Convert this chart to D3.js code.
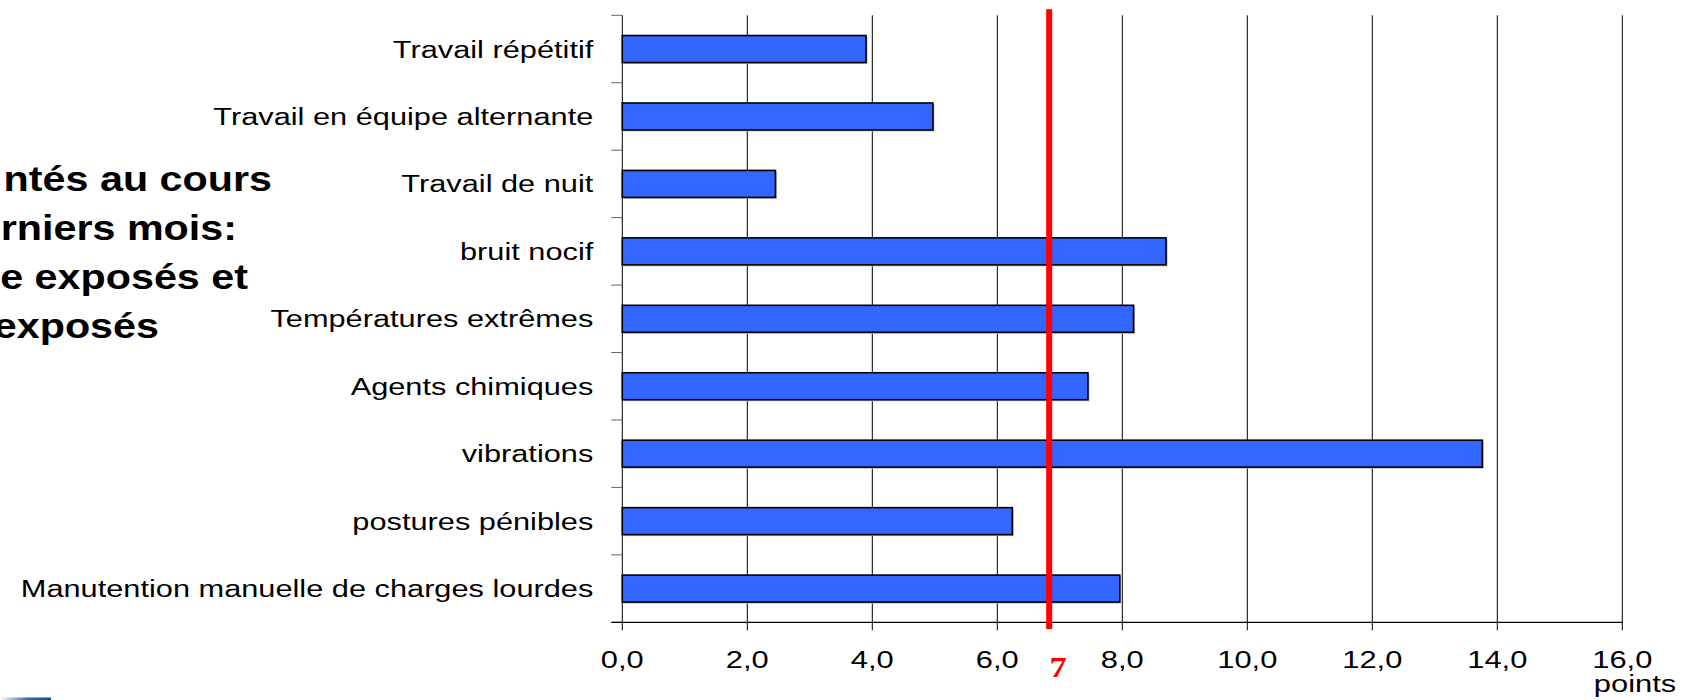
<!DOCTYPE html>
<html>
<head>
<meta charset="utf-8">
<script src="https://cdn.jsdelivr.net/npm/d3@7/dist/d3.min.js"></script>
<style>
  html, body { margin: 0; padding: 0; background: #fff; }
  svg { display: block; }
</style>
</head>
<body>
<svg id="chart" width="1697" height="700"></svg>
<script>
// ---- data ----
const categories = [
  "Travail répétitif",
  "Travail en équipe alternante",
  "Travail de nuit",
  "bruit nocif",
  "Températures extrêmes",
  "Agents chimiques",
  "vibrations",
  "postures pénibles",
  "Manutention manuelle de charges lourdes"
];
const values = [3.90, 4.97, 2.45, 8.70, 8.18, 7.45, 13.76, 6.24, 7.96];
const xTicks = [0, 2, 4, 6, 8, 10, 12, 14, 16];
const thresholdValue = 6.83;
const thresholdLabel = "7";
const unitLabel = "points";
const titleLines = ["ntés au cours", "rniers mois:", "e exposés et", "exposés"];

(function () {
// ---- layout ----
const svg = d3.select("#chart");
const pLeft = 622.3, pRight = 1622.3, pTop = 15.3, pBottom = 622.3;
const stretch = 1.26;

const x = d3.scaleLinear().domain([0, 16]).range([pLeft, pRight]);
const y = d3.scaleBand().domain(categories).range([pTop, pBottom])
  .paddingInner(0.6).paddingOuter(0.3);

// title fragments (left part cut off by the slide edge, as in the reference)
const titleEnds = [272, 237, 248, 159];
const titleBase = [191, 240, 289, 338];
titleLines.forEach((t, i) => {
  svg.append("text")
    .attr("transform", `translate(${titleEnds[i]},${titleBase[i]}) scale(1.18,1)`)
    .attr("text-anchor", "end")
    .attr("font-family", "Liberation Sans, Arial, sans-serif")
    .attr("font-weight", "bold")
    .attr("font-size", 35)
    .attr("fill", "#000")
    .text(t);
});

// vertical gridlines + bottom tick marks
svg.append("g").selectAll("line").data(xTicks.filter(d => d > 0)).join("line")
  .attr("x1", d => x(d)).attr("x2", d => x(d))
  .attr("y1", pTop).attr("y2", pBottom + 8)
  .attr("stroke", "#000").attr("stroke-width", 1);
svg.append("line")
  .attr("x1", x(0)).attr("x2", x(0)).attr("y1", pBottom).attr("y2", pBottom + 8)
  .attr("stroke", "#000").attr("stroke-width", 1);

// y axis line and category separator ticks
svg.append("line")
  .attr("x1", pLeft).attr("x2", pLeft).attr("y1", pTop).attr("y2", pBottom)
  .attr("stroke", "#000").attr("stroke-width", 1);
const sepTicks = categories.map(c => y(c) - y.step() * y.paddingOuter());
sepTicks.push(pBottom);
svg.append("g").selectAll("line").data(sepTicks).join("line")
  .attr("x1", pLeft - 11).attr("x2", pLeft)
  .attr("y1", d => d).attr("y2", d => d)
  .attr("stroke", "#666").attr("stroke-width", 1);

// x axis line
svg.append("line")
  .attr("x1", pLeft - 11).attr("x2", pRight).attr("y1", pBottom).attr("y2", pBottom)
  .attr("stroke", "#000").attr("stroke-width", 1.2);

// bars (light shadow + bar)
svg.append("g").selectAll("rect").data(values).join("rect")
  .attr("x", x(0) + 1.5)
  .attr("y", (d, i) => y(categories[i]) + 1.5)
  .attr("width", d => x(d) - x(0))
  .attr("height", y.bandwidth())
  .attr("fill", "#b8b8b8");
svg.append("g").selectAll("rect").data(values).join("rect")
  .attr("x", x(0))
  .attr("y", (d, i) => y(categories[i]))
  .attr("width", d => x(d) - x(0))
  .attr("height", y.bandwidth())
  .attr("fill", "#3366FF")
  .attr("stroke", "#000")
  .attr("stroke-width", 1.6);

// category labels
svg.append("g").selectAll("text").data(categories).join("text")
  .attr("transform", d => `translate(${pLeft - 29},${y(d) + y.bandwidth() / 2 + 8.5}) scale(${stretch},1)`)
  .attr("text-anchor", "end")
  .attr("font-family", "Liberation Sans, Arial, sans-serif")
  .attr("font-size", 24.4)
  .attr("fill", "#000")
  .text(d => d);

// x tick labels
const fmt = d => d3.format(".1f")(d).replace(".", ",");
svg.append("g").selectAll("text").data(xTicks).join("text")
  .attr("transform", d => `translate(${x(d)},668) scale(${stretch},1)`)
  .attr("text-anchor", "middle")
  .attr("font-family", "Liberation Sans, Arial, sans-serif")
  .attr("font-size", 24.5)
  .attr("fill", "#000")
  .text(fmt);

// unit label
svg.append("text")
  .attr("transform", `translate(1635,692) scale(${stretch},1)`)
  .attr("text-anchor", "middle")
  .attr("font-family", "Liberation Sans, Arial, sans-serif")
  .attr("font-size", 24.5)
  .attr("fill", "#000")
  .text(unitLabel);

// threshold line
svg.append("line")
  .attr("x1", x(thresholdValue)).attr("x2", x(thresholdValue))
  .attr("y1", 9.3).attr("y2", 629)
  .attr("stroke", "#FF0000").attr("stroke-width", 6);
svg.append("text")
  .attr("transform", `translate(1058,677) scale(1.15,1)`)
  .attr("text-anchor", "middle")
  .attr("font-family", "Liberation Serif, Times New Roman, serif")
  .attr("font-weight", "bold")
  .attr("font-size", 30)
  .attr("fill", "#FF0000")
  .text(thresholdLabel);

// logo strip bottom-left
const defs = svg.append("defs");
const grad = defs.append("linearGradient").attr("id", "logoGrad");
grad.append("stop").attr("offset", "0%").attr("stop-color", "#ffffff");
grad.append("stop").attr("offset", "55%").attr("stop-color", "#2a6aa8");
grad.append("stop").attr("offset", "100%").attr("stop-color", "#0d4f8f");
svg.append("rect").attr("x", 0).attr("y", 697.5).attr("width", 51).attr("height", 2.5)
  .attr("fill", "url(#logoGrad)");
})();
</script>
</body>
</html>
